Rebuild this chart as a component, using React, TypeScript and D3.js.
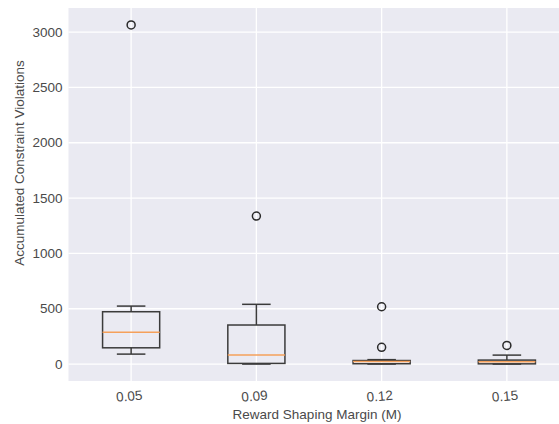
import React from "react";
import * as d3 from "d3";

const categories = ["0.05", "0.09", "0.12", "0.15"];
const q1 = [147, 6, 3, 2];
const medians = [287, 81, 24, 21];
const q3 = [473, 353, 32, 36];
const whiskerLow = [90, 0, 0, 0];
const whiskerHigh = [524, 540, 40, 81];
const outliers = [[3065], [1338], [518, 151], [168]];
const yTicks = [0, 500, 1000, 1500, 2000, 2500, 3000];

const W = 559;
const H = 424;
const plotLeft = 68.5;
const plotRight = 569.5;
const plotTop = 8;
const plotBottom = 381;

export default function App() {
  const x = d3.scaleLinear().domain([0.5, 4.5]).range([plotLeft, plotRight]);
  const y = d3.scaleLinear().domain([-153, 3218]).range([plotBottom, plotTop]);
  const boxW = x(1.456) - x(1);
  const capW = boxW / 2;
  const font = "'Liberation Sans', Arial, sans-serif";
  const txt = "#4a4a4a";
  const dark = "#3b3b3b";
  const fs = 13.5;

  return (
    <svg width={W} height={H} style={{ position: "absolute", left: 0, top: 0 }}>
      <rect x={0} y={0} width={W} height={H} fill="#ffffff" />
      <rect x={plotLeft} y={plotTop} width={plotRight - plotLeft} height={plotBottom - plotTop} fill="#eaeaf2" />
      {yTicks.map((t) => (
        <g key={t}>
          <line x1={plotLeft} x2={plotRight} y1={y(t)} y2={y(t)} stroke="#ffffff" strokeWidth={1.3} />
          <text x={plotLeft - 6} y={y(t)} dy="0.35em" textAnchor="end" fontFamily={font} fontSize={fs} fill={txt}>
            {t}
          </text>
        </g>
      ))}
      {categories.map((c, i) => (
        <g key={c}>
          <line x1={x(i + 1)} x2={x(i + 1)} y1={plotTop} y2={plotBottom} stroke="#ffffff" strokeWidth={1.3} />
          <text
            transform={`translate(${x(i + 1) - 2},${plotBottom + 15}) rotate(-5)`}
            dy="0.35em"
            textAnchor="middle"
            fontFamily={font}
            fontSize={fs}
            fill={txt}
          >
            {c}
          </text>
        </g>
      ))}
      {categories.map((c, i) => {
        const cx = x(i + 1);
        return (
          <g key={"box" + c}>
            <line x1={cx} x2={cx} y1={y(q3[i])} y2={y(whiskerHigh[i])} stroke={dark} strokeWidth={1.5} />
            <line x1={cx} x2={cx} y1={y(q1[i])} y2={y(whiskerLow[i])} stroke={dark} strokeWidth={1.5} />
            <line x1={cx - capW / 2} x2={cx + capW / 2} y1={y(whiskerHigh[i])} y2={y(whiskerHigh[i])} stroke={dark} strokeWidth={1.5} />
            <line x1={cx - capW / 2} x2={cx + capW / 2} y1={y(whiskerLow[i])} y2={y(whiskerLow[i])} stroke={dark} strokeWidth={1.5} />
            <rect
              x={cx - boxW / 2}
              y={y(q3[i])}
              width={boxW}
              height={y(q1[i]) - y(q3[i])}
              fill="none"
              stroke={dark}
              strokeWidth={1.5}
            />
            <line x1={cx - boxW / 2} x2={cx + boxW / 2} y1={y(medians[i])} y2={y(medians[i])} stroke="#f5a05a" strokeWidth={1.5} />
            {outliers[i].map((o, j) => (
              <circle key={j} cx={cx} cy={y(o)} r={4} fill="none" stroke="#2a2a2a" strokeWidth={1.5} />
            ))}
          </g>
        );
      })}
      <text
        x={(plotLeft + plotRight) / 2 - 2}
        y={419}
        textAnchor="middle"
        fontFamily={font}
        fontSize={fs}
        fill={txt}
      >
        Reward Shaping Margin (M)
      </text>
      <text
        transform={`translate(19,163) rotate(-90)`}
        textAnchor="middle"
        dy="0.35em"
        fontFamily={font}
        fontSize={fs}
        fill={txt}
      >
        Accumulated Constraint Violations
      </text>
    </svg>
  );
}
